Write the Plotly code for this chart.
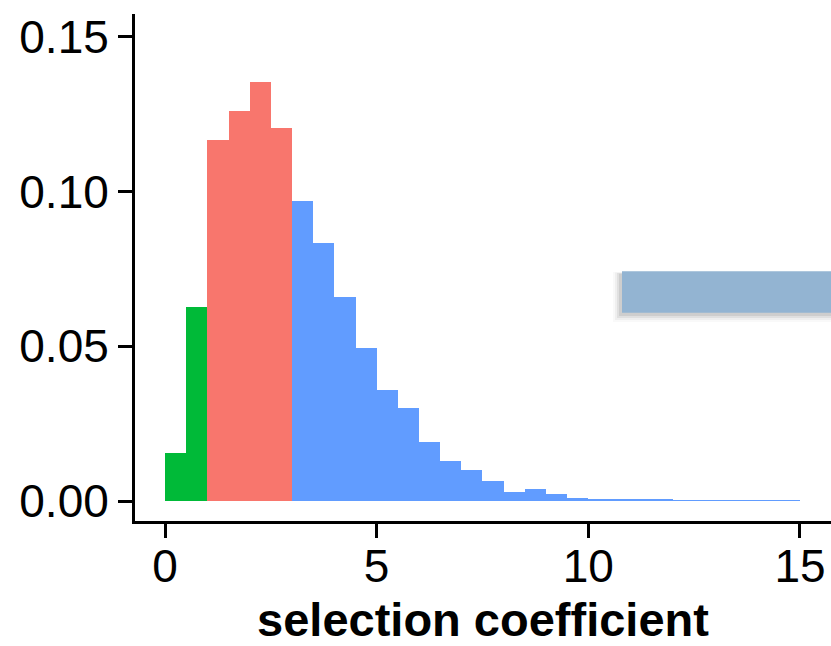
import plotly.graph_objects as go

bin_width = 0.5
bin_left = [i * 0.5 for i in range(30)]
density = [0.0154, 0.0626, 0.1166, 0.1260, 0.1352, 0.1205, 0.0969, 0.0834, 0.0660, 0.0494,
           0.0359, 0.0300, 0.0191, 0.0129, 0.0100, 0.0065, 0.0030, 0.0039, 0.0023, 0.0011,
           0.0005, 0.0007, 0.0007, 0.0004, 0.0002, 0.0002, 0.0001, 0.0001, 0.0001, 0.0001]
groups = ["low"] * 2 + ["mid"] * 4 + ["high"] * 24
group_colors = {"low": "#00BA38", "mid": "#F8766D", "high": "#619CFF"}

x_ticks = [0, 5, 10, 15]
y_ticks = [0.0, 0.05, 0.10, 0.15]
x_title = "selection coefficient"

fig = go.Figure()
for g in ["low", "mid", "high"]:
    xs = [b + bin_width / 2 for b, gg in zip(bin_left, groups) if gg == g]
    ys = [d for d, gg in zip(density, groups) if gg == g]
    fig.add_trace(go.Bar(x=xs, y=ys, width=bin_width, marker=dict(color=group_colors[g], line=dict(width=0)),
                         showlegend=False, hoverinfo="skip"))

# decorative box with drop shadow (partially outside view)
for k, a in [(7, 0.025), (5, 0.04), (3, 0.06), (1, 0.08)]:
    fig.add_shape(type="rect", xref="paper", yref="paper",
                  x0=(620 - k - 135) / 696, x1=1.05,
                  y0=(521 - (315 + k)) / 507, y1=(521 - (274 - k * 0.3)) / 507,
                  fillcolor=f"rgba(0,0,0,{a})", line=dict(width=0), layer="above")
fig.add_shape(type="rect", xref="paper", yref="paper",
              x0=(622 - 135) / 696, x1=1.05,
              y0=(521 - 312.7) / 507, y1=(521 - 271.3) / 507,
              fillcolor="#93B4D2", line=dict(width=0), layer="above")

font = "Liberation Sans, Arial, Helvetica, sans-serif"
fig.update_layout(
    width=831, height=646,
    margin=dict(l=135, r=0, t=14, b=125),
    paper_bgcolor="white", plot_bgcolor="white",
    barmode="overlay", bargap=0,
    font=dict(family=font, size=46, color="black"),
    xaxis=dict(range=[-0.709, 15.733], tickvals=x_ticks, ticktext=[str(v) for v in x_ticks],
               automargin=False,
               showgrid=False, zeroline=False, showline=True, linecolor="black", linewidth=3,
               ticks="outside", ticklen=14, tickwidth=3, tickcolor="black",
               ticklabelstandoff=-11,
               tickfont=dict(size=46, color="black"),
               title=dict(text="<b>" + x_title + "</b>", font=dict(size=47, color="black"), standoff=26)),
    yaxis=dict(range=[-0.00646, 0.1573], tickvals=y_ticks, ticktext=[f"{v:.2f}" for v in y_ticks],
               automargin=False,
               showgrid=False, zeroline=False, showline=True, linecolor="black", linewidth=3,
               ticks="outside", ticklen=14, tickwidth=3, tickcolor="black",
               tickfont=dict(size=46, color="black")),
)

fig.write_html("out.html")
